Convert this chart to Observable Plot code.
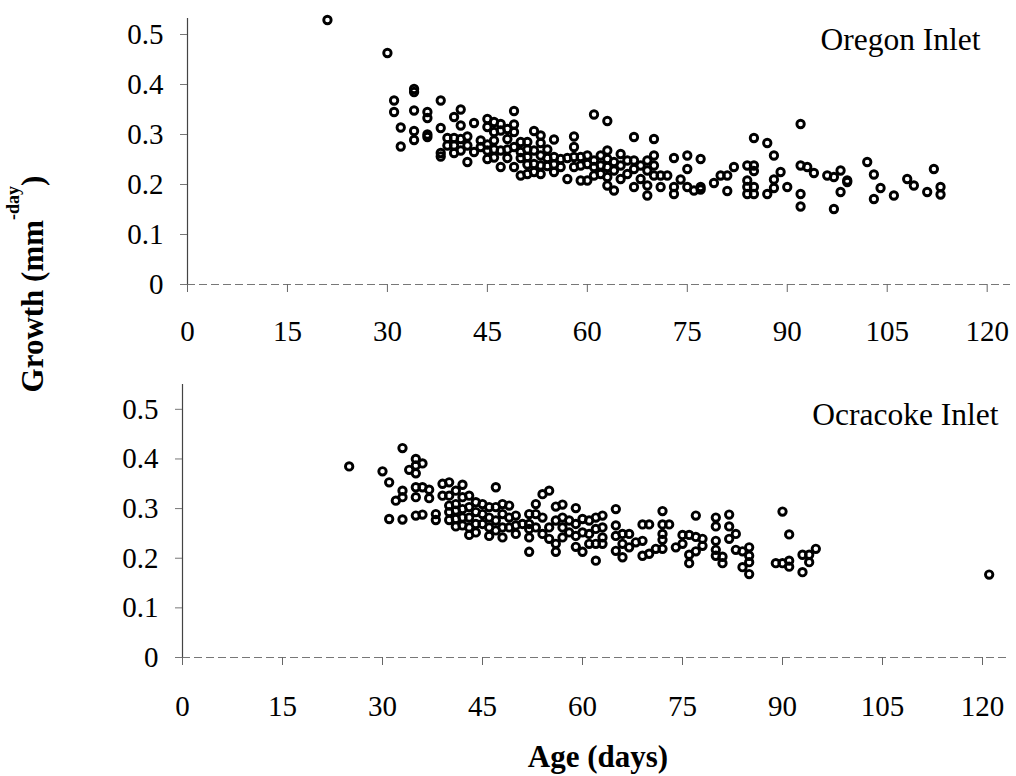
<!DOCTYPE html>
<html>
<head>
<meta charset="utf-8">
<script src="https://cdn.jsdelivr.net/npm/d3@7"></script>
<script src="https://cdn.jsdelivr.net/npm/@observablehq/plot@0.6"></script>
<style>
  html, body { margin: 0; padding: 0; background: #fff; }
  #chart { position: relative; width: 1016px; height: 776px; background: #fff; overflow: hidden; }
  #chart > svg { position: absolute; left: 0; }
  #chart svg text { font-family: 'Liberation Serif', 'Times New Roman', Times, serif !important; }
</style>
</head>
<body>
<div id="chart"></div>
<script>
// ---- data: [age (days), [growth values (mm/day)]] ----
const oregon = [
  [21,[.529]],[30,[.463]],[31,[.368,.345]],[32,[.314,.276]],
  [34,[.391,.385,.348,.307,.289]],[36,[.345,.333,.300,.295]],
  [38,[.368,.313,.263,.256]],[39,[.293,.278]],[40,[.335,.293,.278,.263]],
  [41,[.350,.318,.291,.268]],[42,[.296,.278,.245]],[43,[.323,.265]],
  [44,[.288,.275]],[45,[.331,.315,.280,.268,.251]],[46,[.325,.305,.288,.270,.254]],
  [47,[.321,.308,.268,.235]],[48,[.311,.291,.270,.253]],[49,[.347,.320,.305,.275,.235]],
  [50,[.285,.265,.253,.218]],[51,[.285,.270,.255,.240,.221]],[52,[.307,.268,.241,.225]],
  [53,[.298,.283,.258,.238,.221]],[54,[.270,.253,.237]],[55,[.290,.255,.240,.225]],
  [56,[.251,.235]],[57,[.253,.211]],[58,[.296,.275,.255,.235]],[59,[.255,.238,.208]],
  [60,[.258,.241,.208]],[61,[.340,.248,.235,.218]],[62,[.258,.238,.221]],
  [63,[.327,.268,.251,.235,.215,.198]],[64,[.245,.228,.188]],[65,[.261,.238,.211]],
  [66,[.248,.221]],[67,[.295,.248,.231,.195]],[68,[.238,.211]],[69,[.248,.228,.198,.178]],
  [70,[.291,.258,.238,.218]],[71,[.218,.195]],[72,[.218]],[73,[.253,.195,.181]],
  [74,[.210]],[75,[.258,.231,.195]],[76,[.188]],[77,[.251,.195,.190]],[79,[.203]],
  [80,[.218]],[81,[.218,.187]],[82,[.235]],[84,[.238,.208,.195,.181]],
  [85,[.293,.238,.227,.195,.181]],[87,[.283,.181]],[88,[.258,.210,.193]],[89,[.225]],
  [90,[.195]],[92,[.321,.238,.181,.156]],[93,[.235]],[94,[.223]],[96,[.218]],
  [97,[.215,.151]],[98,[.228,.185]],[99,[.208,.205]],[102,[.245]],[103,[.220,.171]],
  [104,[.193]],[106,[.178]],[108,[.211]],[109,[.198]],[111,[.185]],[112,[.231]],
  [113,[.195,.180]]
];
const ocracoke = [
  [25,[.385]],[30,[.375]],[31,[.353,.279]],[32,[.316]],[33,[.422,.336,.323,.278]],
  [34,[.378]],[35,[.400,.387,.371,.343,.323,.286]],[36,[.391,.343,.288]],
  [37,[.338,.321]],[38,[.289,.277]],[39,[.350,.326]],[40,[.353,.326,.306,.293,.277]],
  [41,[.336,.309,.296,.279,.264]],[42,[.348,.323,.299,.282,.266]],
  [43,[.326,.303,.282,.262,.247]],[44,[.313,.293,.269,.252]],[45,[.309,.289,.269]],
  [46,[.303,.282,.262,.245]],[47,[.343,.303,.276,.256]],[48,[.309,.289,.262,.242]],
  [49,[.306,.282,.262]],[50,[.286,.266,.249]],[51,[.269]],[52,[.289,.269,.259,.242,.213]],
  [53,[.309,.289,.262]],[54,[.329,.282,.249]],[55,[.336,.262,.239]],
  [56,[.304,.276,.229,.213]],[57,[.308,.282,.262,.242]],[58,[.276,.252]],
  [59,[.301,.269,.245,.223]],[60,[.279,.252,.213]],[61,[.276,.249,.229]],
  [62,[.282,.259,.229,.195]],[63,[.286,.262,.242,.229]],[65,[.299,.266,.245,.215]],
  [66,[.249,.229,.202]],[67,[.249,.222]],[68,[.232]],[69,[.268,.235,.205]],
  [70,[.268,.209]],[71,[.219]],[72,[.295,.268,.249,.237,.219]],[73,[.268]],
  [74,[.222]],[75,[.247,.229]],[76,[.247,.207,.190]],[77,[.286,.243,.214]],
  [78,[.239,.225]],[80,[.282,.264,.235,.217,.205]],[81,[.203,.190]],
  [82,[.288,.264,.239]],[83,[.249,.217]],[84,[.214,.182]],[85,[.222,.205,.192,.168]],
  [89,[.190]],[90,[.294,.190]],[91,[.248,.195,.183]],[93,[.207,.172]],
  [94,[.207,.192]],[95,[.219]],[121,[.167]]
];
const xTicks = [0, 15, 30, 45, 60, 75, 90, 105, 120];
const yTicks = [0, 0.1, 0.2, 0.3, 0.4, 0.5];
const panelLabels = ["Oregon Inlet", "Ocracoke Inlet"];
const yTitle = ["Growth (mm", "-day", ")"];
const xTitle = "Age (days)";

// ---- build ----
const SERIF = "'Liberation Serif', 'Times New Roman', Times, serif";
const toRows = groups => groups.flatMap(([age, gs]) => gs.map(g => ({age, growth: g})));

function panel({rows, label, height, marginTop, marginBottom, marginLeft, xMax, yMax, labelDx, labelDy, tickPadX}) {
  return Plot.plot({
    width: 1016, height, marginTop, marginBottom, marginLeft, marginRight: 6,
    style: {fontFamily: SERIF, fontSize: "29px", background: "transparent", overflow: "visible", color: "#000"},
    x: {domain: [0, xMax]},
    y: {domain: [0, yMax]},
    marks: [
      Plot.ruleY([0], {stroke: "#777", strokeWidth: 1.2, strokeDasharray: "8,4"}),
      Plot.ruleX([0], {stroke: "#444", strokeWidth: 1.2}),
      Plot.axisY(yTicks, {tickSize: 7, tickPadding: 17, label: null, stroke: "#777", fill: "#000",
        fontFamily: SERIF, fontSize: 29, tickFormat: d => d === 0 ? "0" : d.toFixed(1)}),
      Plot.axisX(xTicks, {tickSize: 8, tickPadding: tickPadX, label: null, stroke: "#666", fill: "#000",
        fontFamily: SERIF, fontSize: 29}),
      Plot.dot(rows, {x: "age", y: "growth", r: 3.7, stroke: "#000", strokeWidth: 2.9, fill: "none"}),
      Plot.text([label], {frameAnchor: "top-right", text: d => d, textAnchor: "end", lineAnchor: "top",
        dx: labelDx, dy: labelDy, fontSize: 31.5, fontFamily: SERIF, fill: "#000"})
    ]
  });
}

const chartEl = document.getElementById("chart");

const topPanel = panel({rows: toRows(oregon), label: panelLabels[0], height: 360, marginTop: 18, marginBottom: 76,
  marginLeft: 187, xMax: 123.5, yMax: 0.532, labelDx: -30, labelDy: 9, tickPadX: 28});
topPanel.style.top = "0px";
chartEl.appendChild(topPanel);

const bottomPanel = panel({rows: toRows(ocracoke), label: panelLabels[1], height: 416, marginTop: 24, marginBottom: 119,
  marginLeft: 182, xMax: 124.2, yMax: 0.55, labelDx: -12, labelDy: 18, tickPadX: 30});
bottomPanel.style.top = "360px";
chartEl.appendChild(bottomPanel);

// axis titles
const overlay = d3.select(chartEl).append("svg")
  .attr("width", 1016).attr("height", 776)
  .style("top", "0px").style("pointer-events", "none")
  .style("font-family", SERIF).style("font-weight", "bold");

const yt = overlay.append("text")
  .attr("transform", "translate(43,284) rotate(-90)")
  .attr("text-anchor", "middle")
  .attr("font-size", 31)
  .attr("fill", "#000");
yt.append("tspan").text(yTitle[0]);
yt.append("tspan").attr("dy", -24).attr("font-size", 18).text(yTitle[1]);
yt.append("tspan").attr("dy", 24).text(yTitle[2]);

overlay.append("text")
  .attr("x", 598).attr("y", 767)
  .attr("text-anchor", "middle")
  .attr("font-size", 31)
  .attr("fill", "#000")
  .text(xTitle);
</script>
</body>
</html>
